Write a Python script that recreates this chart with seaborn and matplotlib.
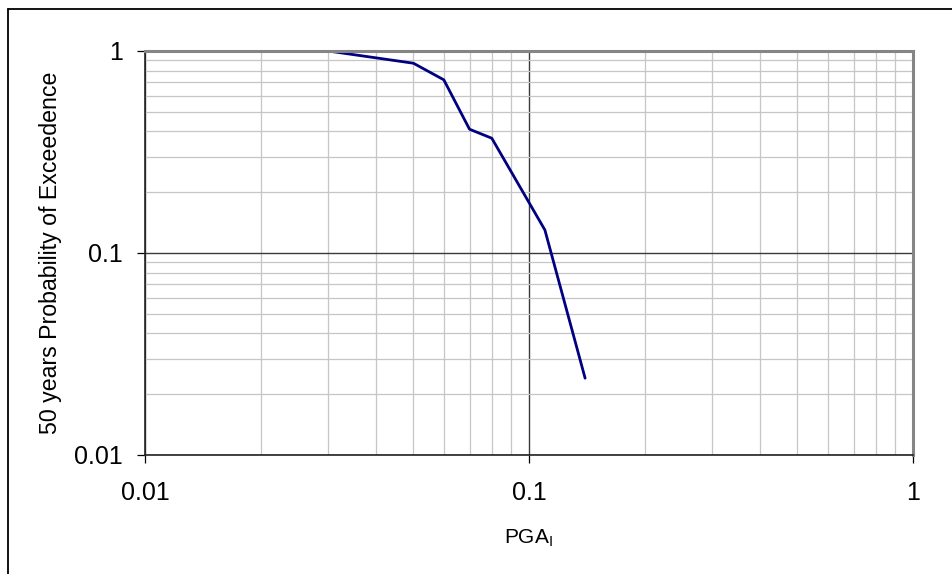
import matplotlib
matplotlib.use("Agg")
import matplotlib.pyplot as plt
import matplotlib.ticker as mticker
from matplotlib.lines import Line2D
import numpy as np
import pandas as pd
import seaborn as sns

# values
pga = [0.03, 0.05, 0.06, 0.07, 0.08, 0.11, 0.14]
prob_exceed = [1.0, 0.87, 0.72, 0.41, 0.37, 0.13, 0.024]
tick_values = [0.01, 0.1, 1]
tick_labels = ["0.01", "0.1", "1"]

sns.set_theme(style="white")
plt.rcParams['font.family'] = ['Liberation Sans', 'DejaVu Sans']

df = pd.DataFrame({"PGA": pga, "Prob": prob_exceed})

fig = plt.figure(figsize=(9.53, 5.74), dpi=100)
ax = fig.add_axes([145 / 953, 119 / 574, 768 / 953, 404 / 574])

sns.lineplot(data=df, x="PGA", y="Prob", ax=ax, color="#000080", linewidth=2.0)

ax.set_xscale("log")
ax.set_yscale("log")
ax.set_xlim(0.01, 1)
ax.set_ylim(0.01, 1)

for axis in (ax.xaxis, ax.yaxis):
    axis.set_major_locator(mticker.FixedLocator(tick_values))
    axis.set_major_formatter(mticker.FixedFormatter(tick_labels))
    axis.set_minor_locator(mticker.LogLocator(base=10, subs=np.arange(2, 10)))
    axis.set_minor_formatter(mticker.NullFormatter())

ax.grid(True, which="minor", color="#c6c6c6", linewidth=0.9)
ax.grid(True, which="major", color="#3a3a3a", linewidth=1.0)
ax.set_axisbelow(True)

ax.tick_params(which="major", direction="out", length=6, width=0.9, color="black",
               labelsize=18, labelcolor="black", bottom=True, left=True)
ax.tick_params(axis="x", which="major", pad=13)
ax.tick_params(axis="y", which="major", pad=10)
ax.tick_params(which="minor", length=0)

for side in ("left", "bottom"):
    ax.spines[side].set_color("#222222")
    ax.spines[side].set_linewidth(1.2)
for side in ("top", "right"):
    ax.spines[side].set_color("#858585")
    ax.spines[side].set_linewidth(2.2)

ax.set_xlabel("PGA$_\\mathregular{I}$", fontsize=15, color="black", labelpad=16)
ax.set_ylabel("50 years Probability of Exceedence", fontsize=16.7, color="black", labelpad=9)

# outer chart border (left and top edges visible)
fig.add_artist(Line2D([8.5 / 953, 8.5 / 953], [0, 1 - 8.5 / 574], transform=fig.transFigure,
                      color="black", linewidth=1.3))
fig.add_artist(Line2D([8.5 / 953, 1], [1 - 8.5 / 574, 1 - 8.5 / 574], transform=fig.transFigure,
                      color="black", linewidth=1.3))

fig.savefig("out.png", dpi=100)
